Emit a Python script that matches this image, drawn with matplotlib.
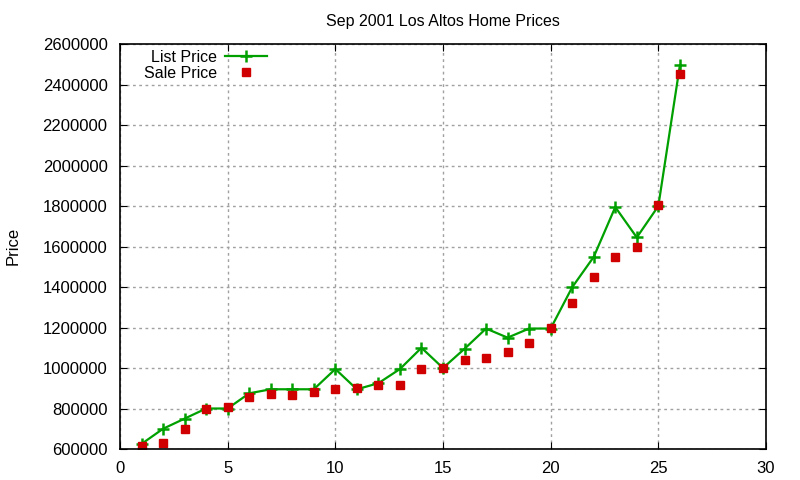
import matplotlib
matplotlib.use("Agg")
import matplotlib.pyplot as plt

plt.rcParams['font.family'] = ['Liberation Sans', 'DejaVu Sans']

# house index (1..26)
house = list(range(1, 27))
list_price = [625000, 700000, 750000, 800000, 800000, 875000, 895000, 895000, 895000, 995000,
              895000, 925000, 995000, 1100000, 1000000, 1095000, 1195000, 1150000, 1195000, 1195000,
              1399000, 1549000, 1795000, 1645000, 1800000, 2495000]
sale_price = [617000, 630000, 700000, 800000, 808000, 855000, 870000, 868000, 880000, 895000,
              900000, 915000, 915000, 995000, 1000000, 1040000, 1050000, 1080000, 1125000, 1200000,
              1323000, 1450000, 1550000, 1600000, 1807000, 2450000]

fig = plt.figure(figsize=(8, 4.8), dpi=100)
ax = fig.add_axes([0.15, 0.0646, 0.8075, 0.8435])

ax.plot(house, list_price, color="#00a000", lw=1.6, marker="+", ms=9, mew=1.8, label="List Price")
ax.plot(house, sale_price, ls="none", color="#d00000", marker="s", ms=6.2, label="Sale Price")

ax.set_xlim(0, 30)
ax.set_ylim(600000, 2600000)
ax.set_xticks(range(0, 31, 5))
ax.set_yticks(range(600000, 2600001, 200000))
ax.set_yticklabels([str(v) for v in range(600000, 2600001, 200000)])
ax.tick_params(direction="in", top=True, right=True, labelsize=12, length=5, pad=9)
ax.grid(True, color="#a0a0a0", ls=(0, (2, 2.5)), lw=1)
for s in ax.spines.values():
    s.set_linewidth(1.2)

ax.set_title("Sep 2001 Los Altos Home Prices", fontsize=11.5, pad=13, x=0.5)
fig.text(0.016, 0.487, "Price", fontsize=12, rotation=90, ha="center", va="center")
ax.legend(loc="upper left", frameon=False, markerfirst=False, fontsize=11.5,
          handlelength=2.6, borderaxespad=0.1, labelspacing=0.05, handletextpad=0.5,
          bbox_to_anchor=(0.025, 1.005))

fig.savefig("out.png", dpi=100)
